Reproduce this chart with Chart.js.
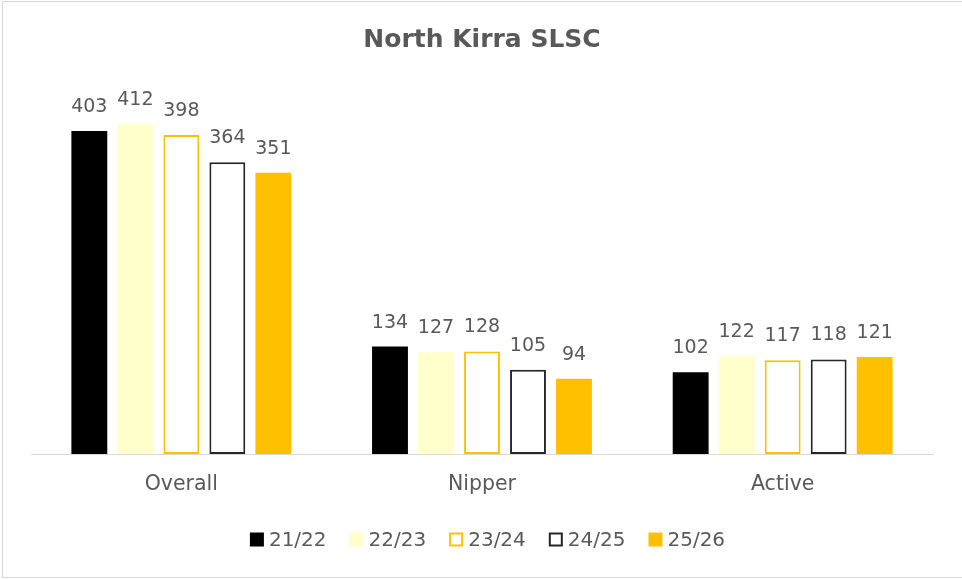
<!DOCTYPE html>
<html>
<head>
<meta charset="utf-8">
<script src="https://cdn.jsdelivr.net/npm/chart.js@4"></script>
<style>
  html, body { margin: 0; padding: 0; background: #fff; }
  #frame { position: absolute; left: 2px; top: 1px; width: 980px; height: 575px; border: 1px solid #d9d9d9; }
  #wrap { position: absolute; left: 0; top: 0; width: 962px; height: 579px; }
</style>
</head>
<body>
<div id="frame"></div>
<div id="wrap"><canvas id="clubChart"></canvas></div>
<script>
const categories = ['Overall', 'Nipper', 'Active'];
const seasons = ['21/22', '22/23', '23/24', '24/25', '25/26'];
const season2122 = [403, 134, 102];
const season2223 = [412, 127, 122];
const season2324 = [398, 128, 117];
const season2425 = [364, 105, 118];
const season2526 = [351, 94, 121];

const grey = '#595959';
const fontFamily = '"DejaVu Sans", sans-serif';

// étiquettes de valeur au-dessus des barres
const valueLabels = {
    id: 'valueLabels',
    afterDatasetsDraw(chart) {
        const c = chart.ctx;
        c.save();
        c.font = '19px ' + fontFamily;
        c.fillStyle = grey;
        c.textAlign = 'center';
        c.textBaseline = 'alphabetic';
        chart.data.datasets.forEach((ds, i) => {
            chart.getDatasetMeta(i).data.forEach((bar, j) => {
                c.fillText(ds.data[j], bar.x, bar.y - 19);
            });
        });
        c.restore();
    }
};

// légende façon Excel (carré, petit écart, texte)
const excelLegend = {
    id: 'excelLegend',
    afterDraw(chart) {
        const c = chart.ctx;
        const box = 14, gap = 5, itemGap = 23;
        c.save();
        c.font = '20px ' + fontFamily;
        c.textBaseline = 'middle';
        const items = chart.data.datasets.map(ds => ({ ds, w: c.measureText(ds.label).width }));
        const total = items.reduce((s, it) => s + box + gap + it.w, 0) + itemGap * (items.length - 1);
        const area = chart.chartArea;
        let x = (area.left + area.right) / 2 + 5.5 - total / 2;
        const y = 539.5;
        items.forEach(it => {
            const ds = it.ds;
            c.fillStyle = ds.backgroundColor;
            c.fillRect(x, y - box / 2, box, box);
            if (ds.borderWidth) {
                c.strokeStyle = ds.borderColor;
                c.lineWidth = ds.borderWidth;
                c.strokeRect(x + 1, y - box / 2 + 1, box - 2, box - 2);
            }
            c.fillStyle = grey;
            c.fillText(ds.label, x + box + gap, y + 1);
            x += box + gap + it.w + itemGap;
        });
        c.restore();
    }
};

const ctx = document.getElementById('clubChart');
new Chart(ctx, {
    type: 'bar',
    data: {
        labels: categories,
        datasets: [
            { label: seasons[0], data: season2122, backgroundColor: '#000000', borderColor: '#000000', borderWidth: 0 },
            { label: seasons[1], data: season2223, backgroundColor: '#ffffcc', borderColor: '#ffffcc', borderWidth: 0 },
            { label: seasons[2], data: season2324, backgroundColor: '#ffffff', borderColor: '#ffc000', borderWidth: 2, borderSkipped: false },
            { label: seasons[3], data: season2425, backgroundColor: '#ffffff', borderColor: '#262626', borderWidth: 2, borderSkipped: false },
            { label: seasons[4], data: season2526, backgroundColor: '#ffc000', borderColor: '#ffc000', borderWidth: 0 }
        ]
    },
    options: {
        responsive: true,
        maintainAspectRatio: false,
        animation: false,
        categoryPercentage: 0.765,
        barPercentage: 0.78,
        layout: { padding: { left: 31, right: 29, top: 0, bottom: 67.5 } },
        scales: {
            x: {
                grid: { display: false, drawTicks: false },
                border: { color: '#d9d9d9', width: 1 },
                ticks: { color: grey, font: { family: fontFamily, size: 20.5 }, padding: 18 },
                afterFit(scale) { scale.height = 57.5; }
            },
            y: { display: false, min: 0, max: 450 }
        },
        plugins: {
            title: {
                display: true,
                text: 'North Kirra SLSC',
                color: grey,
                font: { family: fontFamily, size: 25, weight: 'bold' },
                padding: { top: 25, bottom: 38.3 }
            },
            legend: { display: false },
            tooltip: { enabled: false }
        }
    },
    plugins: [valueLabels, excelLegend]
});
</script>
</body>
</html>
